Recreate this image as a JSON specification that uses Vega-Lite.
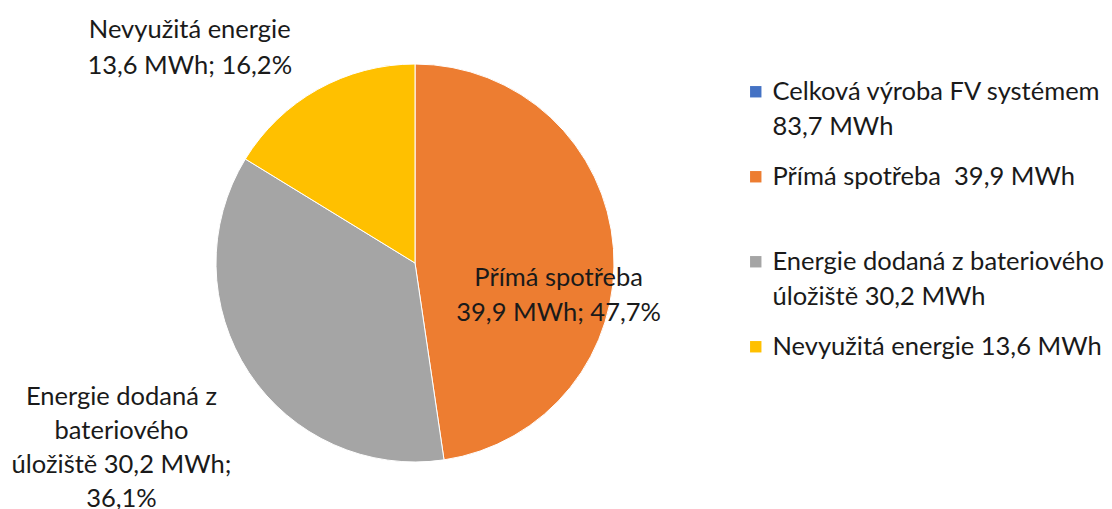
{
  "$schema": "https://vega.github.io/schema/vega-lite/v6.json",
  "width": 830,
  "height": 492,
  "autosize": {"type": "none"},
  "padding": {"left": 0, "top": 17, "right": 282, "bottom": 0},
  "background": "white",
  "config": {
    "view": {"stroke": null},
    "font": "Lato",
    "style": {"guide-label": {"lineHeight": 35}}
  },
  "data": {
    "values": [
      {"key": "total", "legend": "Celková výroba FV systémem|83,7 MWh", "mwh": 83.7, "label": ""},
      {"key": "prima", "legend": "Přímá spotřeba\u00a0 39,9 MWh|", "mwh": 39.9, "label": "Přímá spotřeba\n39,9 MWh; 47,7%"},
      {"key": "baterie", "legend": "Energie dodaná z bateriového|úložiště 30,2 MWh", "mwh": 30.2, "label": "Energie dodaná z\nbateriového\núložiště 30,2 MWh;\n36,1%"},
      {"key": "nevyuzita", "legend": "Nevyužitá energie 13,6 MWh", "mwh": 13.6, "label": "Nevyužitá energie\n13,6 MWh; 16,2%"}
    ]
  },
  "transform": [{"filter": "datum.key != 'total'"}],
  "encoding": {
    "theta": {"field": "mwh", "type": "quantitative", "stack": true},
    "order": {"field": "mwh", "type": "quantitative", "sort": "descending"}
  },
  "layer": [
    {
      "mark": {"type": "arc", "outerRadius": 199, "stroke": "white", "strokeWidth": 1},
      "encoding": {
        "color": {
          "field": "legend",
          "type": "nominal",
          "scale": {
            "domain": ["Celková výroba FV systémem|83,7 MWh", "Přímá spotřeba\u00a0 39,9 MWh|", "Energie dodaná z bateriového|úložiště 30,2 MWh", "Nevyužitá energie 13,6 MWh"],
            "range": ["#4472C4", "#ED7D31", "#A5A5A5", "#FFC000"]
          },
          "legend": {
            "orient": "none",
            "legendX": 743,
            "legendY": 62,
            "title": null,
            "symbolType": "square",
            "symbolSize": 130,
            "symbolStrokeWidth": 0,
            "labelFont": "Lato",
            "labelFontSize": 25.5,
            "labelColor": "#1a1a1a",
            "labelLimit": 0,
            "labelOffset": 4,
            "rowPadding": 23,
            "labelExpr": "split(datum.label, '|')"
          }
        }
      }
    },
    {
      "mark": {"type": "text", "radius": 144, "dy": 26, "fontSize": 25.5, "lineBreak": "\n", "lineHeight": 35, "align": "center", "baseline": "middle", "fill": "#1a1a1a"},
      "encoding": {
        "detail": {"field": "key"},
        "text": {"field": "label", "condition": {"test": "datum.key != 'prima'", "value": ""}}
      }
    },
    {
      "mark": {"type": "text", "radius": 347, "dx": -4, "dy": -57, "fontSize": 25.5, "lineBreak": "\n", "lineHeight": 34, "align": "center", "baseline": "middle", "fill": "#1a1a1a"},
      "encoding": {
        "detail": {"field": "key"},
        "text": {"field": "label", "condition": {"test": "datum.key != 'baterie'", "value": ""}}
      }
    },
    {
      "mark": {"type": "text", "radius": 240, "dx": -108, "dy": -24, "fontSize": 25.5, "lineBreak": "\n", "lineHeight": 36, "align": "center", "baseline": "middle", "fill": "#1a1a1a"},
      "encoding": {
        "detail": {"field": "key"},
        "text": {"field": "label", "condition": {"test": "datum.key != 'nevyuzita'", "value": ""}}
      }
    }
  ]
}
